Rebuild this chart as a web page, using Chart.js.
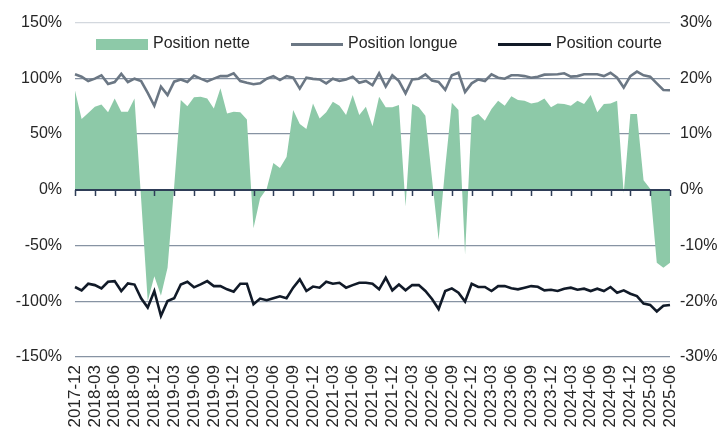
<!DOCTYPE html>
<html>
<head>
<meta charset="utf-8">
<script src="https://cdn.jsdelivr.net/npm/chart.js@4"></script>
<style>
  body { margin: 0; background: #fff; }
  #wrap { position: relative; width: 724px; height: 432px; }
  .lg { position: absolute; font: 16px "Liberation Sans", Arial, sans-serif; color: #262626; white-space: nowrap; }
  .sw { position: absolute; }
</style>
</head>
<body>
<div id="wrap">
  <canvas id="chart" width="724" height="432"></canvas>
  <div class="sw" style="left:96px;top:39px;width:52px;height:11px;background:#8dc9a8"></div>
  <div class="lg" style="left:153px;top:34px">Position nette</div>
  <div class="sw" style="left:291px;top:43px;width:52px;height:3px;background:#6b7784"></div>
  <div class="lg" style="left:348px;top:34px">Position longue</div>
  <div class="sw" style="left:498px;top:43px;width:53px;height:3px;background:#111a28"></div>
  <div class="lg" style="left:556px;top:34px">Position courte</div>
</div>
<script>
// Categories (monthly)
const months = [
    "2017-12",
    "2018-01", "2018-02", "2018-03", "2018-04", "2018-05", "2018-06", "2018-07", "2018-08", "2018-09", "2018-10", "2018-11", "2018-12",
    "2019-01", "2019-02", "2019-03", "2019-04", "2019-05", "2019-06", "2019-07", "2019-08", "2019-09", "2019-10", "2019-11", "2019-12",
    "2020-01", "2020-02", "2020-03", "2020-04", "2020-05", "2020-06", "2020-07", "2020-08", "2020-09", "2020-10", "2020-11", "2020-12",
    "2021-01", "2021-02", "2021-03", "2021-04", "2021-05", "2021-06", "2021-07", "2021-08", "2021-09", "2021-10", "2021-11", "2021-12",
    "2022-01", "2022-02", "2022-03", "2022-04", "2022-05", "2022-06", "2022-07", "2022-08", "2022-09", "2022-10", "2022-11", "2022-12",
    "2023-01", "2023-02", "2023-03", "2023-04", "2023-05", "2023-06", "2023-07", "2023-08", "2023-09", "2023-10", "2023-11", "2023-12",
    "2024-01", "2024-02", "2024-03", "2024-04", "2024-05", "2024-06", "2024-07", "2024-08", "2024-09", "2024-10", "2024-11", "2024-12",
    "2025-01", "2025-02", "2025-03", "2025-04", "2025-05", "2025-06"
];

// Position longue (left axis, %)
const longue = [
    103.6, 101.5, 97.6, 99.7, 102.7, 95, 96.7, 104, 96.7, 99.7,
    97.6, 87, 75.4, 92.6, 85, 97, 99, 96.7, 102.5, 99.7,
    97.3, 99.7, 102, 102, 104.5, 97.6, 96, 94.7, 95.5, 99.7,
    102, 98.5, 102, 100.6, 90.8, 100.6, 99.5, 99, 95.5, 99.7,
    97.6, 99, 101.5, 96, 97.6, 93.8, 104.5, 92.6, 102.7, 97.6,
    86.6, 99, 99.7, 103.6, 98, 96.7, 89.6, 102.7, 105, 87.8,
    95.5, 99, 97.6, 103.6, 100.6, 99.7, 102.7, 102.7, 102, 100.6,
    101.5, 103.3, 103.5, 103.6, 104.5, 101.5, 102, 103.6, 103.6, 103.6,
    102, 105, 100.6, 91.7, 102, 106, 102.7, 101.5, 95.5, 89.6,
    89.3
];

// Position courte (left axis, %)
const courte = [
    -87.2, -90.2, -84.3, -85.5, -88.4, -82.5, -81.9, -90.8, -84, -85,
    -97.3, -105.6, -90.8, -113, -99.7, -97.3, -85, -82.5, -87.5, -84.9,
    -81.9, -86.4, -86.4, -89.3, -91.4, -84.3, -84.3, -102.7, -97.6, -99.1,
    -97.3, -95.5, -97.3, -87.8, -80.4, -90.8, -86.8, -87.8, -82.5, -84.3,
    -83.4, -87.8, -85.5, -83.4, -83.4, -84.3, -89.3, -78.9, -90.2, -84.9,
    -90.2, -85.5, -85.5, -90.8, -98, -107, -90.8, -88.4, -92.3, -100.3,
    -84.3, -87.2, -87.2, -90.8, -86.4, -86.4, -88.4, -89.3, -87.8, -86.4,
    -87, -90.2, -89.7, -90.8, -88.7, -87.8, -89.6, -88.7, -90.8, -88.7,
    -90.8, -87.2, -92.3, -90.2, -93.2, -95.3, -102, -103.3, -109.2, -104,
    -103.3
];

// Position nette (right axis, %)
const nette = [
    17.8, 12.7, 13.8, 14.9, 15.3, 13.9, 16.4, 14, 14, 16.4,
    -1.6, -20, -15.5, -19, -14, 0.6, 16.1, 15, 16.6, 16.7,
    16.4, 14.6, 18.2, 13.7, 14, 13.9, 12.6, -6.9, -1.5, 0.2,
    4.8, 3.9, 5.9, 14.3, 11.8, 10.9, 15.5, 12.8, 13.9, 15.8,
    15.1, 13.4, 17, 13.4, 14.9, 11.4, 16.7, 14.8, 14.8, 15.2,
    -3, 15.4, 14.8, 13.3, 2, -9, 4, 15.6, 14.3, -11.6,
    13, 13.6, 12.4, 14.5, 16, 15.1, 16.8, 16.1, 16, 15.5,
    15.7, 16.4, 14.8, 15.5, 15.4, 15.1, 16, 15.4, 17, 13.9,
    15.4, 15.5, 16, -0.6, 13.6, 13.6, 1.7, 0.2, -13.1, -14,
    -13.1
];

const FONT = "'Liberation Sans', Arial, sans-serif";
const TEXT = "#262626";
const GRID = "#8793a3";

// Axis line at zero with small ticks every 3 months
const zeroAxis = {
    id: "zeroAxis",
    afterDatasetsDraw(chart) {
        const { ctx, chartArea, scales } = chart;
        const y0 = Math.round(scales.y.getPixelForValue(0));
        ctx.save();
        ctx.strokeStyle = "#2e3d57";
        ctx.lineWidth = 2;
        ctx.beginPath();
        ctx.moveTo(chartArea.left, y0);
        ctx.lineTo(chartArea.right, y0);
        ctx.stroke();
        ctx.lineWidth = 1.5;
        ctx.beginPath();
        months.forEach((m, i) => {
            if (i % 3 !== 0) return;
            const x = Math.round(scales.x.getPixelForValue(i)) + 0.5;
            ctx.moveTo(x, y0);
            ctx.lineTo(x, y0 + 6);
        });
        ctx.stroke();
        ctx.restore();
    }
};

document.addEventListener("DOMContentLoaded", () => {
    const ctx = document.getElementById("chart").getContext("2d");
    new Chart(ctx, {
        type: "line",
        data: {
            labels: months,
            datasets: [
                {
                    label: "Position courte",
                    data: courte,
                    yAxisID: "y",
                    borderColor: "#111a28",
                    borderWidth: 2.6,
                    pointRadius: 0,
                    tension: 0,
                    fill: false,
                    order: 0,
                },
                {
                    label: "Position longue",
                    data: longue,
                    yAxisID: "y",
                    borderColor: "#6b7784",
                    borderWidth: 2.6,
                    pointRadius: 0,
                    tension: 0,
                    fill: false,
                    order: 1,
                },
                {
                    label: "Position nette",
                    data: nette,
                    yAxisID: "y1",
                    borderColor: "#8dc9a8",
                    backgroundColor: "#8dc9a8",
                    borderWidth: 0,
                    pointRadius: 0,
                    tension: 0,
                    fill: "origin",
                    order: 2,
                },
            ],
        },
        options: {
            responsive: false,
            animation: false,
            devicePixelRatio: 1,
            layout: { padding: { top: 19, right: 0, bottom: 0, left: 0 } },
            plugins: {
                legend: { display: false },
                tooltip: { enabled: false },
            },
            scales: {
                x: {
                    grid: { display: false, drawTicks: false },
                    border: { display: false },
                    ticks: {
                        autoSkip: false,
                        minRotation: 90,
                        maxRotation: 90,
                        padding: 8,
                        color: TEXT,
                        font: { family: FONT, size: 17 },
                        callback: function (v, i) {
                            return i % 3 === 0 ? this.getLabelForValue(v) : "";
                        },
                    },
                    afterFit: (s) => { s.height = 75; },
                },
                y: {
                    position: "left",
                    min: -150,
                    max: 150,
                    grid: {
                        drawTicks: false,
                        lineWidth: 1.3,
                        color: (c) => {
                            if (!c.tick) return GRID;
                            if (c.tick.value === 0) return "rgba(0,0,0,0)";
                            if (c.tick.value === 150) return "#d3d8de";
                            return GRID;
                        },
                    },
                    border: { display: false },
                    ticks: {
                        stepSize: 50,
                        padding: 13,
                        color: TEXT,
                        font: { family: FONT, size: 16 },
                        callback: (v) => v + "%",
                    },
                    afterFit: (s) => { s.width = 75; },
                },
                y1: {
                    position: "right",
                    min: -30,
                    max: 30,
                    grid: { display: false, drawTicks: false },
                    border: { display: false },
                    ticks: {
                        stepSize: 10,
                        padding: 10,
                        color: TEXT,
                        font: { family: FONT, size: 16 },
                        callback: (v) => v + "%",
                    },
                    afterFit: (s) => { s.width = 54; },
                },
            },
        },
        plugins: [zeroAxis],
    });
});
</script>
</body>
</html>
